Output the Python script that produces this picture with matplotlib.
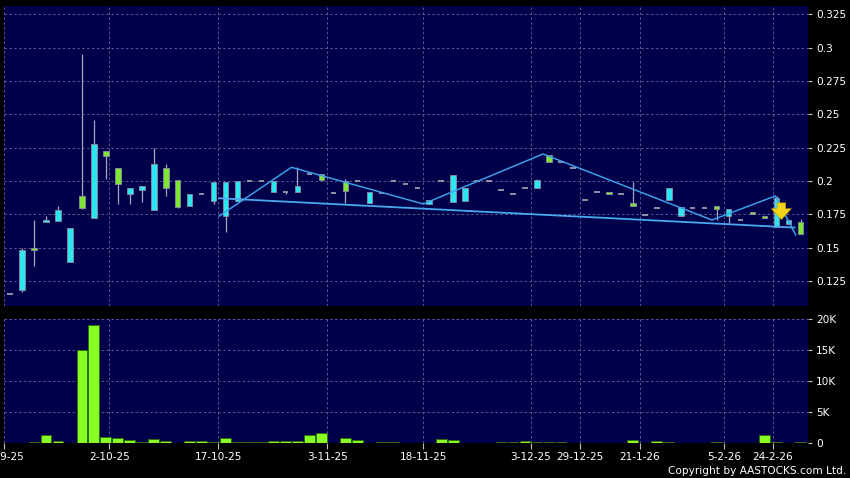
import matplotlib
matplotlib.use('Agg')
import matplotlib.pyplot as plt
import numpy as np

# ---------------- data ----------------
opens = [0.115, 0.118, 0.150, 0.169, 0.170, 0.139, 0.189, 0.172, 0.2225, 0.210,
         0.190, 0.193, 0.178, 0.210, 0.2005, 0.181, 0.190, 0.185, 0.1735, 0.185,
         0.200, 0.200, 0.192, 0.192, 0.192, 0.205, 0.205, 0.1907, 0.200, 0.200,
         0.1833, 0.1907, 0.200, 0.198, 0.195, 0.1825, 0.200, 0.184, 0.185, 0.200,
         0.200, 0.193, 0.190, 0.195, 0.195, 0.2197, 0.214, 0.210, 0.186, 0.1915,
         0.1915, 0.190, 0.1832, 0.1743, 0.180, 0.186, 0.174, 0.180, 0.180, 0.181,
         0.1737, 0.1707, 0.1767, 0.1735, 0.1657, 0.1677, 0.169]
highs = [0.115, 0.150, 0.171, 0.174, 0.181, 0.165, 0.295, 0.246, 0.2225, 0.210,
         0.1945, 0.196, 0.225, 0.2125, 0.2005, 0.190, 0.190, 0.199, 0.199, 0.200,
         0.200, 0.200, 0.200, 0.192, 0.2107, 0.205, 0.205, 0.1907, 0.2017, 0.200,
         0.192, 0.1907, 0.200, 0.198, 0.195, 0.186, 0.200, 0.2042, 0.195, 0.200,
         0.200, 0.193, 0.190, 0.195, 0.2017, 0.2197, 0.214, 0.210, 0.186, 0.1915,
         0.1915, 0.190, 0.1994, 0.1743, 0.180, 0.195, 0.1802, 0.180, 0.180, 0.181,
         0.179, 0.1707, 0.1767, 0.1735, 0.1887, 0.1707, 0.1712]
lows = [0.115, 0.117, 0.136, 0.169, 0.170, 0.139, 0.179, 0.172, 0.2015, 0.183,
        0.183, 0.184, 0.178, 0.189, 0.1797, 0.181, 0.190, 0.183, 0.162, 0.185,
        0.200, 0.200, 0.192, 0.190, 0.192, 0.205, 0.2005, 0.1907, 0.1837, 0.200,
        0.1833, 0.1907, 0.200, 0.198, 0.195, 0.1825, 0.200, 0.184, 0.185, 0.200,
        0.200, 0.193, 0.190, 0.195, 0.195, 0.214, 0.214, 0.210, 0.186, 0.1915,
        0.190, 0.190, 0.181, 0.1743, 0.180, 0.186, 0.174, 0.180, 0.180, 0.1707,
        0.1687, 0.1707, 0.1752, 0.172, 0.1657, 0.1677, 0.160]
closes = [0.115, 0.148, 0.148, 0.1705, 0.178, 0.165, 0.180, 0.2275, 0.219, 0.198,
          0.1945, 0.196, 0.213, 0.195, 0.1805, 0.190, 0.190, 0.199, 0.199, 0.200,
          0.200, 0.200, 0.200, 0.192, 0.196, 0.205, 0.2005, 0.1907, 0.1927, 0.200,
          0.192, 0.1907, 0.200, 0.198, 0.195, 0.186, 0.200, 0.2042, 0.195, 0.200,
          0.200, 0.193, 0.190, 0.195, 0.201, 0.214, 0.214, 0.210, 0.186, 0.1915,
          0.190, 0.190, 0.181, 0.1743, 0.180, 0.195, 0.1802, 0.180, 0.180, 0.179,
          0.179, 0.1707, 0.1752, 0.172, 0.187, 0.1707, 0.160]
volumes = [0, 0, 150, 1300, 320, 0, 15000, 19100, 1020, 860,
           480, 200, 650, 430, 0, 370, 430, 150, 910, 200,
           200, 270, 320, 430, 320, 1290, 1670, 0, 810, 540,
           100, 150, 150, 0, 50, 50, 700, 540, 50, 0,
           0, 150, 270, 370, 200, 150, 150, 50, 30, 0,
           50, 0, 540, 0, 320, 200, 0, 50, 50, 150,
           0, 0, 0, 1400, 150, 100, 200]

date_labels = ['18-9-25', '2-10-25', '17-10-25', '3-11-25', '18-11-25',
               '3-12-25', '29-12-25', '21-1-26', '5-2-26', '24-2-26']
date_pos = [-0.48, 8.3, 17.4, 26.5, 34.5, 43.5, 47.6, 52.6, 59.6, 63.7]

price_ticks = [0.125, 0.15, 0.175, 0.2, 0.225, 0.25, 0.275, 0.3, 0.325]
price_tick_labels = ['0.125', '0.15', '0.175', '0.2', '0.225', '0.25', '0.275', '0.3', '0.325']
vol_ticks = [0, 5000, 10000, 15000, 20000]
vol_tick_labels = ['0', '5K', '10K', '15K', '20K']

upper_trend_x = [17.47, 23.5, 34.5, 44.5, 58.6, 63.9, 65.6]
upper_trend_y = [0.1737, 0.2102, 0.1827, 0.2202, 0.1707, 0.1887, 0.1594]
lower_trend_x = [17.47, 65.5]
lower_trend_y = [0.187, 0.165]

signal_x = 64.4
signal_top = 0.1856
signal_bottom = 0.169

# ---------------- style ----------------
BG = '#000000'
PANEL = '#00004a'
GRID = '#5a5a92'
CYAN = '#2ee6f0'
GREEN = '#80e634'
DASH = '#a8a8b4'
WICK = '#a4a4c4'
EDGE = '#8c8ca4'
VOLG = '#88ff22'
TXT = 'white'
FS = 7.6

W, H = 850, 478
fig = plt.figure(figsize=(W / 100, H / 100), dpi=100, facecolor=BG)

def px_axes(l, t, r, b):
    return fig.add_axes([l / W, 1 - b / H, (r - l) / W, (b - t) / H])

ax = px_axes(4.3, 5.7, 807.7, 306)
axv = px_axes(4.3, 318.5, 807.7, 443.3)

xlim = (-0.48, 66.6)
n = len(opens)
idx = np.arange(n)
o = np.array(opens); c = np.array(closes); h = np.array(highs); l = np.array(lows)

for a in (ax, axv):
    a.set_facecolor(PANEL)
    for s in a.spines.values():
        s.set_visible(False)
    a.set_xlim(*xlim)
    a.yaxis.tick_right()
    a.tick_params(axis='y', colors='#c0c0c0', labelcolor=TXT, labelsize=FS,
                  length=3, pad=3, width=0.8)
    for xp in date_pos:
        a.axvline(xp, color=GRID, lw=0.7, ls=(0, (2.5, 2.5)), zorder=0)

# price panel
ax.set_ylim(0.1062, 0.3314)
ax.set_yticks(price_ticks)
ax.set_yticklabels(price_tick_labels)
ax.set_xticks([])
for yv in price_ticks:
    ax.axhline(yv, color=GRID, lw=0.7, ls=(0, (2.5, 2.5)), zorder=0)

bw = 0.46
up = c > o
down = c < o
flat = c == o

ax.vlines(idx, l, h, color=WICK, lw=0.9, zorder=2)
ax.bar(idx[up], (c - o)[up], bottom=o[up], width=bw, color=CYAN,
       edgecolor=EDGE, linewidth=0.6, zorder=3)
ax.bar(idx[down], (o - c)[down], bottom=c[down], width=bw, color=GREEN,
       edgecolor=EDGE, linewidth=0.6, zorder=3)
ax.hlines(o[flat], idx[flat] - bw / 2, idx[flat] + bw / 2, color=DASH, lw=1.2, zorder=3)

ax.plot(upper_trend_x, upper_trend_y, color='#3c9ee6', lw=1.1, zorder=4)
ax.plot(lower_trend_x, lower_trend_y, color='#4aa8ee', lw=1.3, zorder=4)

ax.annotate('', xy=(signal_x, signal_bottom), xytext=(signal_x, signal_top),
            arrowprops=dict(arrowstyle='simple,head_length=0.7,head_width=1.3,tail_width=0.55',
                            mutation_scale=11, facecolor='#f4d21a', edgecolor='#c8a400', lw=0.5),
            zorder=5)

# volume panel
axv.set_ylim(0, 20130)
axv.set_yticks(vol_ticks)
axv.set_yticklabels(vol_tick_labels)
for yv in vol_ticks[1:]:
    axv.axhline(yv, color=GRID, lw=0.7, ls=(0, (2.5, 2.5)), zorder=0)
axv.bar(idx, volumes, width=0.9, color=VOLG, edgecolor='#2f6a10', linewidth=0.6, zorder=3)
axv.set_xticks(date_pos)
axv.set_xticklabels(date_labels)
axv.tick_params(axis='x', colors='#c0c0c0', labelcolor=TXT, labelsize=FS,
                length=4, pad=2, width=0.8)

fig.text(846 / W, 1 - 471 / H, 'Copyright by AASTOCKS.com Ltd.', color=TXT,
         fontsize=FS, ha='right', va='center')

fig.savefig('out.png', dpi=100, facecolor=BG)
